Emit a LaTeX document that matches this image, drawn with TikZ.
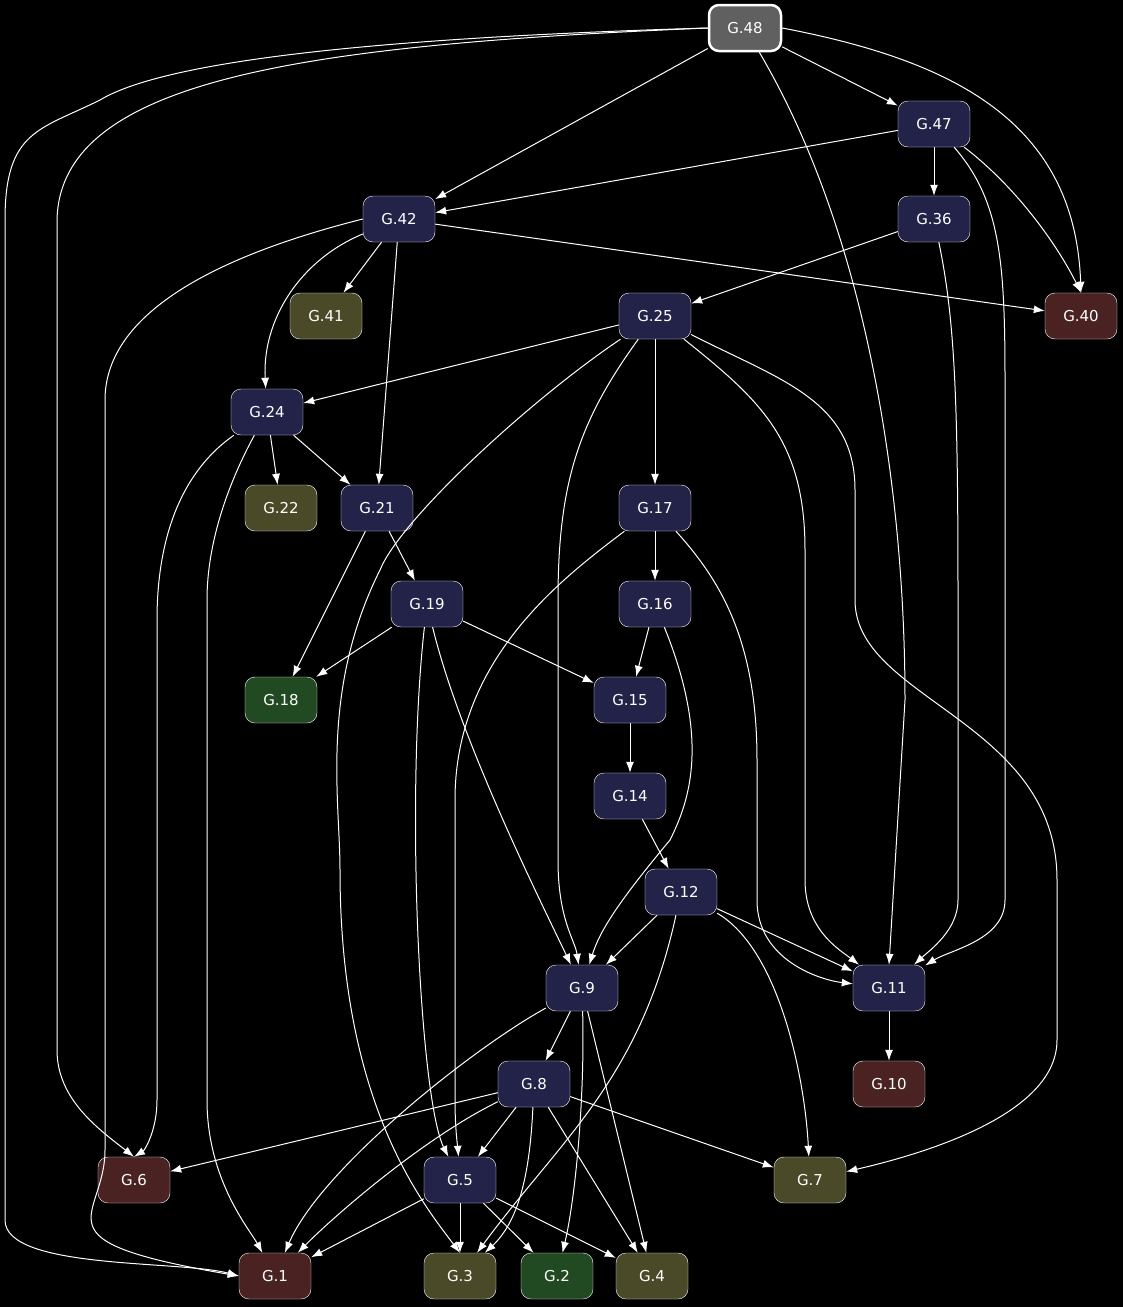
\documentclass[tikz,border=0pt]{standalone}
\usepackage{fontspec}
\setmainfont{DejaVu Sans}
\usetikzlibrary{arrows.meta,positioning}
\definecolor{navy}{HTML}{23234A}
\definecolor{olive}{HTML}{4A4A28}
\definecolor{maroon}{HTML}{4A2222}
\definecolor{moss}{HTML}{224A22}
\definecolor{slate}{HTML}{606060}
\tikzset{
	box/.style={draw=white, rounded corners=10pt, minimum width=72pt, minimum height=46pt, text=white, font=\fontsize{15}{15}\selectfont, fill=navy},
	edge/.style={draw=white, -{Latex[length=11pt,width=8pt]}, line width=1pt}
}
\begin{document}
\begin{tikzpicture}[x=1pt,y=-1pt]
	\fill[black] (0,0) rectangle (1123,1307);
	\node[box,fill=slate,line width=2.5pt] (g48) at (745,28) {G.48};
	\node[box] (g47) at (934,124) {G.47};
	\node[box] (g42) at (399,219) {G.42};
	\node[box] (g36) at (934,219) {G.36};
	\node[box,fill=olive] (g41) at (326,316) {G.41};
	\node[box] (g25) at (655,316) {G.25};
	\node[box,fill=maroon] (g40) at (1081,316) {G.40};
	\node[box] (g24) at (267,412) {G.24};
	\node[box,fill=olive] (g22) at (281,508) {G.22};
	\node[box] (g21) at (377,508) {G.21};
	\node[box] (g17) at (655,508) {G.17};
	\node[box] (g19) at (427,604) {G.19};
	\node[box] (g16) at (655,604) {G.16};
	\node[box,fill=moss] (g18) at (281,700) {G.18};
	\node[box] (g15) at (630,700) {G.15};
	\node[box] (g14) at (630,796) {G.14};
	\node[box] (g12) at (681,892) {G.12};
	\node[box] (g9) at (582,988) {G.9};
	\node[box] (g11) at (889,988) {G.11};
	\node[box] (g8) at (534,1084) {G.8};
	\node[box,fill=maroon] (g10) at (889,1084) {G.10};
	\node[box,fill=maroon] (g6) at (134,1180) {G.6};
	\node[box] (g5) at (460,1180) {G.5};
	\node[box,fill=olive] (g7) at (810,1180) {G.7};
	\node[box,fill=maroon] (g1) at (275,1276) {G.1};
	\node[box,fill=olive] (g3) at (460,1276) {G.3};
	\node[box,fill=moss] (g2) at (557,1276) {G.2};
	\node[box,fill=olive] (g4) at (652,1276) {G.4};
	% from G.48
	\draw[edge] (g48) -- (g42);
	\draw[edge] (g48) -- (g47);
	\draw[edge] (g48.east) .. controls (950,60) and (1075,120) .. (g40.north);
	\draw[edge] (g48) .. controls (870,240) and (905,500) .. (905,700) -- (g11.north);
	\draw[edge] (g48.west) .. controls (300,45) and (60,80) .. (57,220) -- (57,1050) .. controls (57,1100) and (100,1130) .. (g6.north);
	\draw[edge] (g48.west) .. controls (300,40) and (150,70) .. (100,100) .. controls (40,130) and (5,130) .. (5,220) -- (5,1220) .. controls (5,1270) and (180,1260) .. (g1.west);
	% from G.47
	\draw[edge] (g47) -- (g42);
	\draw[edge] (g47) -- (g36);
	\draw[edge] (g47) .. controls (1020,190) and (1060,250) .. (g40.north);
	\draw[edge] (g47) .. controls (1000,200) and (1005,260) .. (1005,380) -- (1005,900) .. controls (1005,940) and (950,950) .. (g11);
	% from G.42
	\draw[edge] (g42) -- (g41);
	\draw[edge] (g42) .. controls (300,260) and (262,320) .. (g24);
	\draw[edge] (g42) -- (g21);
	\draw[edge] (g42) -- (g40);
	\draw[edge] (g42.west) .. controls (200,260) and (105,320) .. (105,400) -- (105,1150) .. controls (105,1220) and (30,1240) .. (g1.west);
	% from G.36
	\draw[edge] (g36) -- (g25);
	\draw[edge] (g36) .. controls (955,320) and (958,400) .. (958,600) -- (958,900) .. controls (958,930) and (930,950) .. (g11);
	% from G.25
	\draw[edge] (g25) -- (g24);
	\draw[edge] (g25) -- (g17);
	\draw[edge] (g25) .. controls (580,420) and (558,480) .. (558,600) -- (558,860) .. controls (558,920) and (575,940) .. (g9);
	\draw[edge] (g25) .. controls (760,400) and (805,440) .. (805,550) -- (805,880) .. controls (805,930) and (840,950) .. (g11);
	\draw[edge] (g25) .. controls (780,380) and (855,400) .. (855,490) -- (855,600) .. controls (855,700) and (1057,720) .. (1057,880) -- (1057,1040) .. controls (1057,1110) and (940,1150) .. (g7);
	\draw[edge] (g25) .. controls (530,400) and (400,520) .. (380,570) .. controls (320,690) and (340,800) .. (340,870) .. controls (340,1100) and (420,1200) .. (g3.north);
	% from G.24
	\draw[edge] (g24) -- (g22);
	\draw[edge] (g24) -- (g21);
	\draw[edge] (g24) .. controls (170,480) and (157,560) .. (157,620) -- (157,1100) .. controls (157,1130) and (145,1150) .. (g6.north);
	\draw[edge] (g24) .. controls (230,480) and (207,540) .. (207,600) -- (207,1100) .. controls (207,1180) and (250,1230) .. (g1);
	% from G.21, G.17, G.19, G.16
	\draw[edge] (g21) -- (g19);
	\draw[edge] (g21) -- (g18);
	\draw[edge] (g17) -- (g16);
	\draw[edge] (g17) .. controls (560,580) and (455,660) .. (455,800) -- (455,1100) .. controls (455,1130) and (458,1150) .. (g5);
	\draw[edge] (g17) .. controls (720,580) and (757,640) .. (757,760) -- (757,900) .. controls (757,960) and (820,980) .. (g11);
	\draw[edge] (g19) -- (g18);
	\draw[edge] (g19) -- (g15);
	\draw[edge] (g19) .. controls (460,740) and (540,900) .. (g9);
	\draw[edge] (g19) .. controls (405,800) and (420,1100) .. (g5);
	\draw[edge] (g16) -- (g15);
	\draw[edge] (g16) .. controls (710,740) and (690,800) .. (670,840) .. controls (620,900) and (600,930) .. (g9);
	\draw[edge] (g15) -- (g14);
	\draw[edge] (g14) -- (g12);
	% from G.12
	\draw[edge] (g12) -- (g9);
	\draw[edge] (g12) -- (g11);
	\draw[edge] (g12) .. controls (780,950) and (805,1080) .. (g7);
	\draw[edge] (g12) .. controls (640,1080) and (560,1140) .. (g3);
	% from G.9
	\draw[edge] (g9) -- (g8);
	\draw[edge] (g9) .. controls (470,1050) and (320,1170) .. (g1);
	\draw[edge] (g9) .. controls (585,1100) and (575,1200) .. (g2);
	\draw[edge] (g9) -- (g4);
	\draw[edge] (g11) -- (g10);
	% from G.8
	\draw[edge] (g8) -- (g6);
	\draw[edge] (g8) -- (g7);
	\draw[edge] (g8) -- (g5);
	\draw[edge] (g8) .. controls (420,1140) and (330,1220) .. (g1);
	\draw[edge] (g8) .. controls (530,1170) and (520,1220) .. (g3);
	\draw[edge] (g8) -- (g4);
	% from G.5
	\draw[edge] (g5) -- (g1);
	\draw[edge] (g5) -- (g3);
	\draw[edge] (g5) -- (g2);
	\draw[edge] (g5) -- (g4);
\end{tikzpicture}
\end{document}
